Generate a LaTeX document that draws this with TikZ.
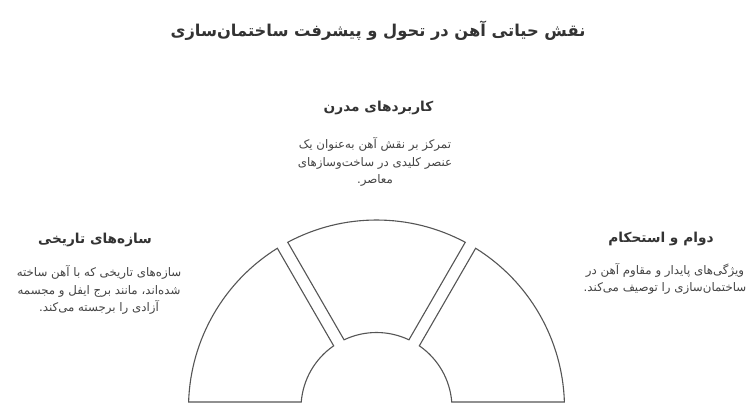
\documentclass[tikz,border=0pt]{standalone}
\usepackage{fontspec}
\newfontfamily\arabicfont[Script=Arabic]{DejaVu Sans}
\TeXXeTstate=1
\definecolor{titlecol}{HTML}{333333}
\definecolor{bodycol}{HTML}{444444}
\definecolor{linecol}{HTML}{555555}
\tikzset{
  titletext/.style={font=\arabicfont\bfseries\fontsize{16.3}{20}\selectfont, text=titlecol, inner sep=0pt},
  headtext/.style={font=\arabicfont\bfseries\fontsize{13.7}{17}\selectfont, text=titlecol, inner sep=0pt},
  bodytext/.style={font=\arabicfont\fontsize{11.8}{17.5}\selectfont, text=bodycol, align=center, inner sep=0pt},
  segment/.style={draw=linecol, line width=1.1pt, fill=white, line join=miter}
}
\begin{document}
\begin{tikzpicture}[x=1pt,y=1pt]
\useasboundingbox (0,0) rectangle (750,417);
% title
\node[titletext] (title) at (378,386) {\beginR نقش حیاتی آهن در تحول و پیشرفت ساختمان‌سازی\endR};
% middle block
\node[headtext] (hmid) at (378.5,309) {\beginR کاربردهای مدرن\endR};
\node[bodytext] (bmid) at (375,255) {\beginR تمرکز بر نقش آهن به‌عنوان یک\endR\\\beginR عنصر کلیدی در ساخت‌وساز‌های\endR\\\beginR معاصر.\endR};
% left block
\node[headtext] (hleft) at (95,177) {\beginR سازه‌های تاریخی\endR};
\node[bodytext] (bleft) at (99,127) {\beginR سازه‌های تاریخی که با آهن ساخته\endR\\\beginR شده‌اند، مانند برج ایفل و مجسمه\endR\\\beginR آزادی را برجسته می‌کند.\endR};
% right block
\node[headtext] (hright) at (661,178) {\beginR دوام و استحکام\endR};
\node[bodytext] (bright) at (665,138) {\beginR ویژگی‌های پایدار و مقاوم آهن در\endR\\\beginR ساختمان‌سازی را توصیف می‌کند.\endR};
% semicircle segments
\begin{scope}[shift={(376.5,9)}]
  \def\Ro{188}\def\Ri{75.5}\def\aR{1.829}\def\ar{4.558}
  \foreach \a/\b in {0/60,60/120,120/180}{
    \draw[segment] ({\a+\aR}:\Ro) arc[start angle={\a+\aR}, end angle={\b-\aR}, radius=\Ro]
      -- ({\b-\ar}:\Ri) arc[start angle={\b-\ar}, end angle={\a+\ar}, radius=\Ri] -- cycle;
  }
\end{scope}
\end{tikzpicture}
\end{document}
